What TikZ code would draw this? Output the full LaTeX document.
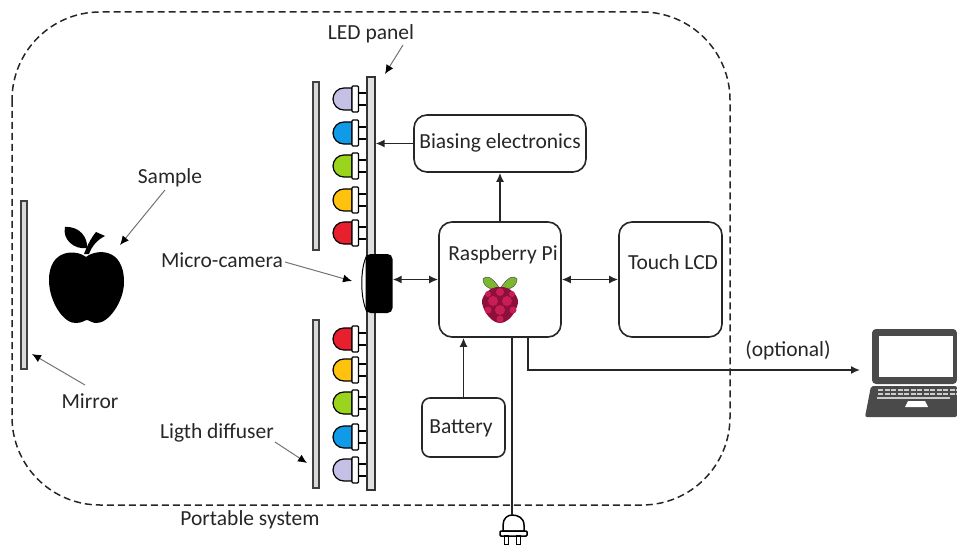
\documentclass[tikz,border=0pt]{standalone}
\usepackage{fontspec}
\usetikzlibrary{arrows.meta}
\setmainfont{Carlito}
\definecolor{ledlilac}{HTML}{C5C0E6}
\definecolor{ledblue}{HTML}{0F9BE8}
\definecolor{ledgreen}{HTML}{9BD41C}
\definecolor{ledyellow}{HTML}{FFC20E}
\definecolor{ledred}{HTML}{E8202E}
\definecolor{berry}{HTML}{8E0F3C}
\definecolor{berrylight}{HTML}{C81E55}
\definecolor{leafgreen}{HTML}{7CB82F}
\definecolor{laptopgray}{HTML}{4A4A4A}
\tikzset{
  box/.style={draw=black!85, line width=1.6pt, rounded corners=13pt, inner sep=0pt},
  bar/.style={draw=black!75, line width=1.4pt, fill=black!15, inner sep=0pt},
  txt/.style={inner sep=0pt, text=black!85, font=\fontsize{21.5}{24}\selectfont},
  link/.style={line width=1.6pt, draw=black!85, -{Latex[length=9pt,width=8pt]}},
  both/.style={line width=1.6pt, draw=black!85, {Latex[length=9pt,width=8pt]}-{Latex[length=9pt,width=8pt]}},
  leader/.style={draw=black!55, line width=1pt, -{Latex[length=9pt,width=8pt,black]}},
}
\newcommand{\ledlamp}[2]{%
  \draw[line width=1.2pt, fill=#1] (352,#2-11) -- (344,#2-11) arc (270:90:11) -- (352,#2+11) -- cycle;
  \draw[line width=1.2pt, fill=white] (358,#2-6) rectangle (367,#2+6);
  \draw[line width=1.2pt, fill=white, rounded corners=1pt] (352,#2-13) rectangle (358.5,#2+13);
}
\begin{document}
\begin{tikzpicture}[x=1pt,y=-1pt]
      \useasboundingbox (0,0) rectangle (957,545);

      % enclosure
      \draw[line width=1.5pt, black!85, dash pattern=on 7pt off 4pt, rounded corners=88pt] (12,12) rectangle (730,505);
      \node[txt] (portable) at (250,520) {Portable system};

      % mirror and diffusers
      \node[bar, minimum width=6pt, minimum height=168pt] (mirror) at (24,285) {};
      \node[bar, minimum width=6pt, minimum height=168pt] (diffusertop) at (316,166) {};
      \node[bar, minimum width=6pt, minimum height=168pt] (diffuserbot) at (316,404) {};

      % LEDs
      \foreach \y/\c in {99/ledlilac,133/ledblue,166/ledgreen,200/ledyellow,233/ledred,
                         339/ledred,370/ledyellow,403/ledgreen,437/ledblue,470/ledlilac}
        \ledlamp{\c}{\y};
      \node[draw=black!80, line width=1.2pt, fill=black!12, inner sep=0pt, minimum width=8pt, minimum height=413pt] (panel) at (371,283.5) {};

      % camera
      \draw[line width=1pt, fill=white] (367,255) .. controls (360,268) and (360,298) .. (367,312);
      \node[fill=black, rounded corners=5pt, inner sep=0pt, minimum width=27pt, minimum height=59pt] (cam) at (379,283.5) {};

      % apple
      \fill (86,257) .. controls (96,249) and (124,247) .. (124,282) .. controls (124,302) and (108,324) .. (96,323)
        .. controls (92,323) and (89,320) .. (87,320) .. controls (85,320) and (82,323) .. (76,323)
        .. controls (64,324) and (49,302) .. (49,280) .. controls (49,249) and (76,249) .. (86,257) -- cycle;
      \fill (65,227) .. controls (80,226) and (88,238) .. (87,248) .. controls (75,250) and (62,240) .. (65,227) -- cycle;
      \fill (84,254) .. controls (87,246) and (91,238) .. (96,232) -- (105,236) .. controls (97,240) and (92,246) .. (89,254) -- cycle;
      \coordinate (apple) at (120,245);
      \coordinate (mirrorpt) at (32,354);
      \coordinate (campt) at (352,281);
      \coordinate (panelpt) at (385,74);
      \coordinate (diffpt) at (307,463);

      % blocks
      \node[box, minimum width=172pt, minimum height=57pt] (bias) at (500,143.5) {};
      \node[txt] (biastext) at (500,143) {Biasing electronics};
      \node[box, minimum width=122pt, minimum height=115pt] (rasp) at (500,279.5) {};
      \node[txt] (rasptext) at (503,255) {Raspberry Pi};
      \node[box, minimum width=103pt, minimum height=115pt] (lcd) at (670.5,279.5) {};
      \node[txt] (lcdtext) at (673,262) {Touch LCD};
      \node[box, rounded corners=8pt, minimum width=83pt, minimum height=59pt] (batt) at (463.5,427.5) {};
      \node[txt] (batttext) at (461,428) {Battery};

      % raspberry logo
      \fill[leafgreen, draw=black!70, line width=0.5pt] (500,289) .. controls (492,276) and (486,275) .. (483,279) .. controls (483,287) and (492,291) .. (500,289) -- cycle;
      \fill[leafgreen, draw=black!70, line width=0.5pt] (500,289) .. controls (508,276) and (514,275) .. (517,279) .. controls (517,287) and (508,291) .. (500,289) -- cycle;
      \fill[berry] (500,287) .. controls (510,286) and (519,296) .. (518,303) .. controls (516,313) and (508,323) .. (500,323)
        .. controls (492,323) and (484,313) .. (482,303) .. controls (481,296) and (490,286) .. (500,287) -- cycle;
      \foreach \x/\y/\r in {500/292/4,488/294/3,512/294/3,493/301/5,507/301/5,500/310/5,488/310/3.5,513/310/3.5,500/319/3.5}
        \fill[berrylight] (\x,\y) circle (\r);

      % laptop
      \node[txt] (opt) at (788,350) {(optional)};
      \fill[laptopgray, rounded corners=4pt] (872,384) -- (872,329) -- (957,329) -- (957,384) -- cycle;
      \fill[white] (879,336) rectangle (953,377);
      \fill[laptopgray, rounded corners=2pt] (871,386) -- (957,386) -- (957,417) -- (865,417) -- cycle;
      \foreach \y in {390,394}
        \draw[white!80!black, line width=1.6pt, dash pattern=on 5pt off 1.5pt] (878,\y) -- (957,\y);
      \draw[white!80!black, line width=1.6pt] (877,398) -- (950,398);
      \fill[white] (908,401) -- (925,401) -- (928,407) -- (905,407) -- cycle;
      \coordinate (laptop) at (860,370);

      % plug
      \coordinate (plugtop) at (512,515);
      \draw[line width=1.5pt, fill=white] (503,531) -- (503,525) .. controls (503,518) and (508,515) .. (plugtop) .. controls (518,515) and (524,518) .. (524,525) -- (524,531) -- cycle;
      \draw[line width=1.5pt, fill=white, rounded corners=1pt] (500,531) rectangle (527,536);
      \draw[line width=1.5pt, fill=white] (504.5,536) rectangle (508.5,545);
      \draw[line width=1.5pt, fill=white] (516.5,536) rectangle (520.5,545);

      % connections
      \draw[link] (bias.west) -- (bias.west -| panel.east);
      \draw[link] (rasp.north) -- (bias.south);
      \draw[both] (cam.east |- rasp.west) -- (rasp.west);
      \draw[both] (rasp.east) -- (lcd.west);
      \draw[link] (batt.north) -- (batt.north |- rasp.south);
      \draw[line width=1.6pt, black!85] (rasp.south -| plugtop) -- (plugtop);
      \draw[link] (rasp.south -| 528,0) -- (528,370) -- (laptop);

      % labels
      \node[txt] (ledlabel) at (371,34) {LED panel};
      \node[txt] (samplelabel) at (170,178) {Sample};
      \node[txt] (camlabel) at (222,260) {Micro-camera};
      \node[txt] (mirrorlabel) at (90,401) {Mirror};
      \node[txt] (difflabel) at (217,433) {Ligth diffuser};
      \draw[leader] (403,45) -- (panelpt);
      \draw[leader] (165,190) -- (apple);
      \draw[leader] (285,262) -- (campt);
      \draw[leader] (85,385) -- (mirrorpt);
      \draw[leader] (275,442) -- (diffpt);

\end{tikzpicture}
\end{document}
